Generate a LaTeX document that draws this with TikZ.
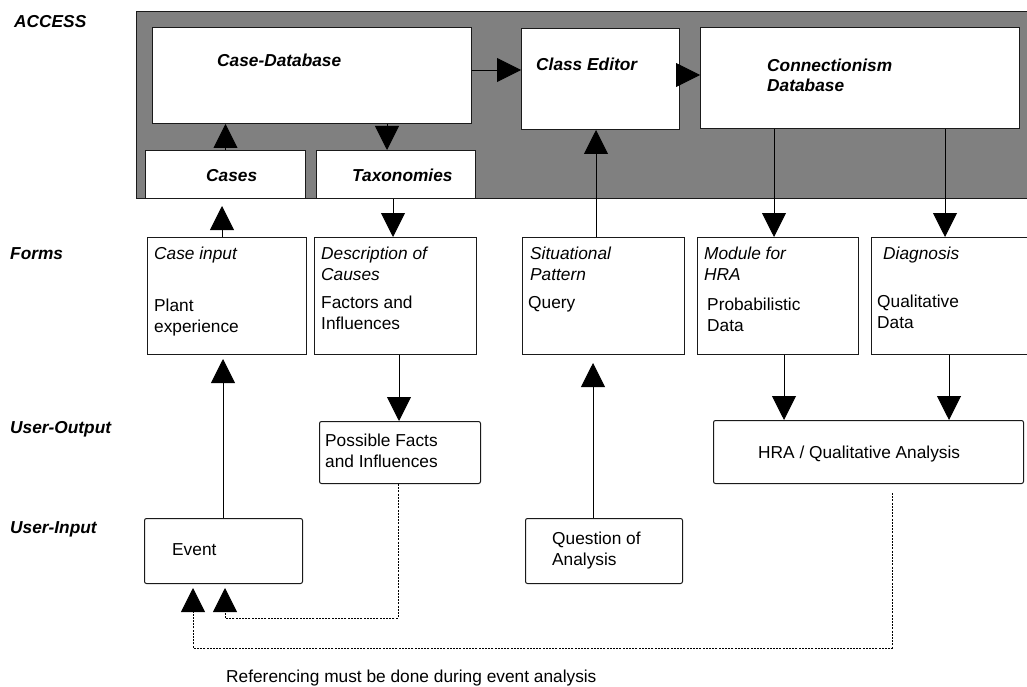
\documentclass[tikz,border=0pt]{standalone}
\usepackage{fontspec}
\setmainfont{Liberation Sans}
\usetikzlibrary{arrows.meta,calc}
\definecolor{panelGray}{HTML}{808080}
\definecolor{lineDark}{HTML}{1a1a1a}

\begin{document}
\begin{tikzpicture}[
          x=1pt, y=-1pt,
          box/.style={rectangle, draw=lineDark, fill=white, line width=1pt,
                      anchor=north west, inner sep=0pt},
          softbox/.style={box, rounded corners=2pt},
          txt/.style={anchor=base west, inner sep=0pt, align=left,
                      font=\fontsize{17.3}{20.5}\selectfont},
          head/.style={txt, font=\fontsize{17.3}{20.5}\selectfont\bfseries\itshape},
          form/.style={txt, font=\fontsize{17.3}{20.5}\selectfont\itshape},
          link/.style={->, line width=0.9pt},
          refline/.style={->, line width=0.8pt, dash pattern=on 2pt off 1.2pt, shorten >=4pt},
          >={Triangle[length=24pt,width=24pt]}
        ]
        \useasboundingbox (0,0) rectangle (1027,687);

        % access layer
        \fill[panelGray] (136,12) rectangle (1030,198);
        \draw[lineDark, line width=1pt] (1030,12) -- (136,12) -- (136,198) -- (1030,198);

        \node[box, minimum width=319pt, minimum height=96pt] (casedb) at (152,27) {};
        \node[box, minimum width=158pt, minimum height=101pt] (classed) at (521,28) {};
        \node[box, minimum width=319pt, minimum height=101pt] (conndb) at (700,27) {};
        \node[box, minimum width=160pt, minimum height=48pt] (cases) at (145,150) {};
        \node[box, minimum width=159pt, minimum height=48pt] (taxo) at (316,150) {};
        \draw[lineDark, line width=1pt] (136,198) -- (1030,198);

        % forms
        \node[box, minimum width=159pt, minimum height=117pt] (caseinput) at (147,237) {};
        \node[box, minimum width=162pt, minimum height=117pt] (causes) at (314,237) {};
        \node[box, minimum width=162pt, minimum height=117pt] (situ) at (522,237) {};
        \node[box, minimum width=161pt, minimum height=117pt] (module) at (697,237) {};
        \node[box, minimum width=160pt, minimum height=117pt] (diag) at (871,237) {};

        % user output / input
        \node[softbox, minimum width=161pt, minimum height=62pt] (possible) at (319,421) {};
        \node[softbox, minimum width=310pt, minimum height=63pt] (hra) at (713,420) {};
        \node[softbox, minimum width=158pt, minimum height=65pt] (event) at (144,518) {};
        \node[softbox, minimum width=157pt, minimum height=65pt] (question) at (525,518) {};

        % row labels
        \node[head] (accessLbl) at (14,28) {ACCESS};
        \node[head] (formsLbl) at (10,259) {Forms};
        \node[head] (outLbl) at (10,433) {User-Output};
        \node[head] (inLbl) at (10,533) {User-Input};

        % texts in the boxes (base = last line)
        \node[head] (casedbTxt) at (217,67) {Case-Database};
        \node[head] (classedTxt) at (536,71) {Class Editor};
        \node[head] (conndbTxt) at (767,92) {Connectionism\\Database};
        \node[head] (casesTxt) at (206,182) {Cases};
        \node[head] (taxoTxt) at (352,182) {Taxonomies};

        \node[form] (caseinputTxt) at (154,259) {Case input};
        \node[txt] (plantTxt) at (154,332) {Plant\\experience};
        \node[form] (causesTxt) at (321,280) {Description of\\Causes};
        \node[txt] (factorsTxt) at (321,329) {Factors and\\Influences};
        \node[form] (situTxt) at (530,280) {Situational\\Pattern};
        \node[txt] (queryTxt) at (528,308) {Query};
        \node[form] (moduleTxt) at (704,280) {Module for\\HRA};
        \node[txt] (probTxt) at (707,331) {Probabilistic\\Data};
        \node[form] (diagTxt) at (883,259) {Diagnosis};
        \node[txt] (qualTxt) at (877,328) {Qualitative\\Data};

        \node[txt] (possibleTxt) at (325,467) {Possible Facts\\and Influences};
        \node[txt] (hraTxt) at (758,458) {HRA / Qualitative Analysis};
        \node[txt] (eventTxt) at (172,555) {Event};
        \node[txt] (questionTxt) at (552,565) {Question of\\Analysis};
        \node[txt] (refTxt) at (226,682) {Referencing must be done during event analysis};

        % connectors
        \draw[link] (cases.north) -- (cases.north |- casedb.south);
        \draw[link] ($(casedb.south west)+(235,0)$) -- ($(taxo.north west)+(71,0)$);
        \draw[link] ($(casedb.north east)+(0,43)$) -- ($(classed.north west)+(0,42)$);
        \draw[link] ($(classed.north east)+(0,47)$) -- ($(conndb.north west)+(0,48)$);
        \draw[link] ($(situ.north west)+(74,0)$) -- ($(classed.south west)+(75,0)$);
        \draw[link] ($(conndb.south west)+(74,0)$) -- ($(module.north west)+(77,0)$);
        \draw[link] ($(conndb.south west)+(245,0)$) -- ($(diag.north west)+(74,0)$);
        \draw[link] ($(caseinput.north west)+(75,0)$) -- ($(cases.south west)+(77,7)$);
        \draw[link] ($(taxo.south west)+(77,0)$) -- ($(causes.north west)+(79,0)$);
        \draw[link] ($(event.north west)+(79,0)$) -- ($(caseinput.south west)+(76,4)$);
        \draw[link] ($(causes.south west)+(85,0)$) -- ($(possible.north west)+(80,0)$);
        \draw[link] ($(question.north west)+(68,0)$) -- ($(situ.south west)+(71,8)$);
        \draw[link] ($(module.south west)+(87,0)$) -- ($(hra.north west)+(71,0)$);
        \draw[link] ($(diag.south west)+(78,0)$) -- ($(hra.north west)+(236,0)$);

        % references back to the event
        \draw[refline] ($(possible.south west)+(79,0)$) |- ($(event.south west)+(81,34)$)
              -- ($(event.south west)+(81,0)$);
        \draw[refline] ($(hra.south west)+(179,9)$) |- ($(event.south west)+(49,64)$)
              -- ($(event.south west)+(49,0)$);
      \end{tikzpicture}
\end{document}
